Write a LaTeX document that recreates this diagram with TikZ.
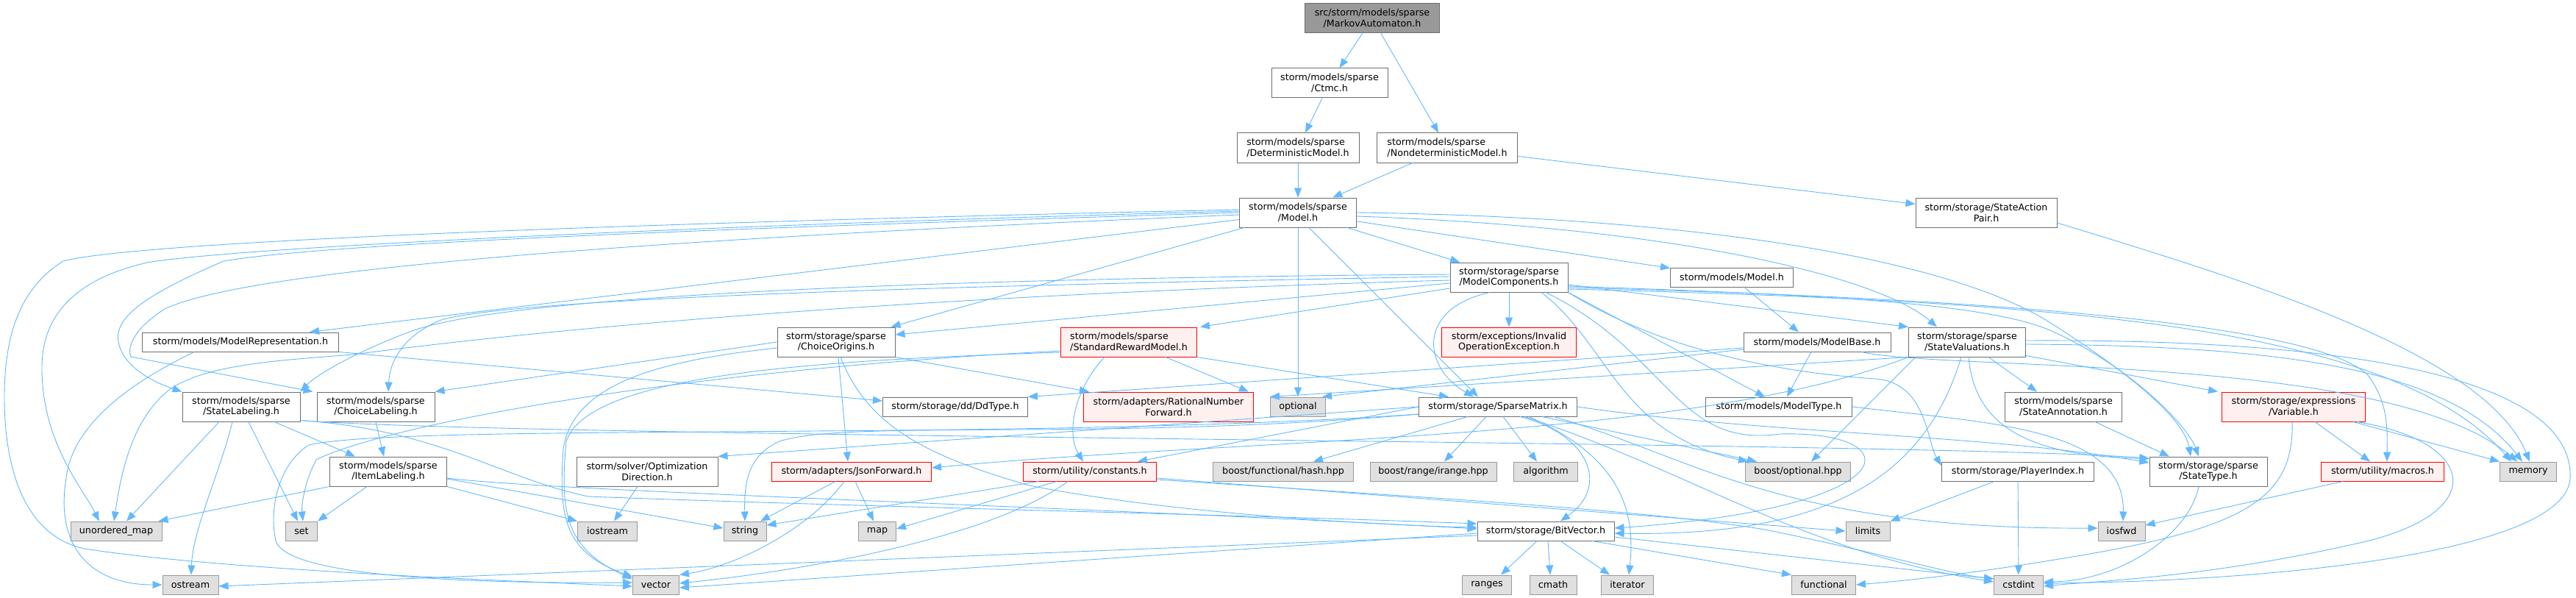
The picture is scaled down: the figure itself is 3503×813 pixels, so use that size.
\documentclass[tikz,border=0pt]{standalone}
\usepackage{fontspec}
\setmainfont{DejaVu Sans}
\usetikzlibrary{arrows.meta}
\definecolor{edgec}{HTML}{63B8FF}
\definecolor{bordc}{HTML}{6E6E6E}
\definecolor{sysb}{HTML}{999999}
\definecolor{sysf}{HTML}{E0E0E0}
\definecolor{redf}{HTML}{FFF0F0}
\definecolor{mainf}{HTML}{999999}
\newcommand\mk[6]{\node[#5,minimum width=#4pt] (#1) at (#2,#3) {#6};}
\begin{document}
\begin{tikzpicture}[x=1pt,y=-1pt,
  box/.style={draw=bordc, fill=white, line width=1pt, inner sep=0pt, minimum height=40pt, align=center, font=\fontsize{12.7pt}{14.6pt}\selectfont},
  one/.style={box, minimum height=26pt},
  sysn/.style={one, draw=sysb, fill=sysf},
  redn/.style={box, draw=red, fill=redf},
  redone/.style={one, draw=red, fill=redf},
  mainn/.style={box, fill=mainf, draw=bordc},
  lft/.style={box, align=left},
  edge/.style={draw=edgec, line width=0.9pt, -{Triangle[length=13pt,width=10pt]}}]
\useasboundingbox (0,0) rectangle (3503,813);
% rank 0-4
\mk{MA}{1866}{25}{183}{mainn}{src/storm/models/sparse\\/MarkovAutomaton.h}
\mk{Ctmc}{1808}{113}{158}{box}{storm/models/sparse\\/Ctmc.h}
\mk{Det}{1765}{201}{166}{lft}{storm/models/sparse\\/DeterministicModel.h}
\mk{Nondet}{1968}{201}{191}{lft}{storm/models/sparse\\/NondeterministicModel.h}
\mk{ModelS}{1765}{289}{159}{box}{storm/models/sparse\\/Model.h}
\mk{SAP}{2701}{289}{192}{box}{storm/storage/StateAction\\Pair.h}
\mk{MC}{2052}{377}{160}{box}{storm/storage/sparse\\/ModelComponents.h}
\mk{MModel}{2355}{377}{167}{one}{storm/models/Model.h}
% rank 5
\mk{MRep}{327}{465}{267}{one}{storm/models/ModelRepresentation.h}
\mk{CO}{1137}{465}{160}{box}{storm/storage/sparse\\/ChoiceOrigins.h}
\mk{SRM}{1535}{465}{185}{redn,align=left}{storm/models/sparse\\/StandardRewardModel.h}
\mk{IOE}{2052}{465}{183}{redn}{storm/exceptions/Invalid\\OperationException.h}
\mk{MB}{2471}{465}{200}{one}{storm/models/ModelBase.h}
\mk{SV}{2675}{465}{159}{box}{storm/storage/sparse\\/StateValuations.h}
% rank 6
\mk{SL}{328}{553}{160}{box}{storm/models/sparse\\/StateLabeling.h}
\mk{CL}{511}{553}{160}{box}{storm/models/sparse\\/ChoiceLabeling.h}
\mk{DD}{1299}{553}{197}{one}{storm/storage/dd/DdType.h}
\mk{RNF}{1589}{553}{231}{redn}{storm/adapters/RationalNumber\\Forward.h}
\mk{opt}{1765}{553}{75}{sysn}{optional}
\mk{SM}{2037}{553}{215}{one}{storm/storage/SparseMatrix.h}
\mk{MT}{2419}{553}{199}{one}{storm/models/ModelType.h}
\mk{SA}{2806}{553}{159}{box}{storm/models/sparse\\/StateAnnotation.h}
\mk{Var}{3119}{553}{195}{redn}{storm/storage/expressions\\/Variable.h}
% rank 7
\mk{IL}{528}{641}{159}{box}{storm/models/sparse\\/ItemLabeling.h}
\mk{OD}{880}{641}{192}{box}{storm/solver/Optimization\\Direction.h}
\mk{JF}{1158}{641}{217}{redone}{storm/adapters/JsonForward.h}
\mk{CONST}{1482}{641}{181}{redone}{storm/utility/constants.h}
\mk{hash}{1745}{641}{191}{sysn}{boost/functional/hash.hpp}
\mk{irange}{1949}{641}{172}{sysn}{boost/range/irange.hpp}
\mk{algo}{2102}{641}{87}{sysn}{algorithm}
\mk{bopt}{2445}{641}{143}{sysn}{boost/optional.hpp}
\mk{PI}{2744}{641}{207}{one}{storm/storage/PlayerIndex.h}
\mk{ST}{3003}{641}{160}{box}{storm/storage/sparse\\/StateType.h}
\mk{MAC}{3240}{641}{167}{redone}{storm/utility/macros.h}
\mk{mem}{3438}{641}{77}{sysn}{memory}
% rank 8
\mk{umap}{158}{722}{124}{sysn}{unordered\_map}
\mk{set}{410}{722}{43}{sysn}{set}
\mk{iostream}{826}{722}{81}{sysn}{iostream}
\mk{string}{1013}{722}{58}{sysn}{string}
\mk{map}{1193}{722}{51}{sysn}{map}
\mk{BV}{2102}{722}{186}{one}{storm/storage/BitVector.h}
\mk{limits}{2540}{722}{60}{sysn}{limits}
\mk{iosfwd}{2885}{722}{64}{sysn}{iosfwd}
% rank 9
\mk{ostream}{259}{795}{76}{sysn}{ostream}
\mk{vector}{892}{795}{63}{sysn}{vector}
\mk{ranges}{2022}{795}{67}{sysn}{ranges}
\mk{cmath}{2112}{795}{64}{sysn}{cmath}
\mk{iterator}{2213}{795}{71}{sysn}{iterator}
\mk{functional}{2480}{795}{87}{sysn}{functional}
\mk{cstdint}{2745}{795}{67}{sysn}{cstdint}

% ---- edges: top
\draw[edge] (MA) -- (Ctmc);
\draw[edge] (MA) -- (Nondet);
\draw[edge] (Ctmc) -- (Det);
\draw[edge] (Det) -- (ModelS);
\draw[edge] (Nondet) -- (ModelS);
\draw[edge] (Nondet) -- (SAP);
\draw[edge] ([yshift=-14pt]SAP.east) .. controls (3050,380) and (3380,480) .. ([xshift=2pt]mem.north);
% ModelS
\draw[edge] (ModelS) -- (MC);
\draw[edge] (ModelS) -- (MModel);
\draw[edge] (ModelS) -- ([xshift=-40pt]MRep.north east);
\draw[edge] (ModelS) -- ([xshift=-6pt]CO.north east);
\draw[edge] (ModelS) -- (opt);
\draw[edge] ([xshift=15pt]ModelS.south) -- ([xshift=-27pt]SM.north);
\draw[edge] (ModelS.east) .. controls (2300,295) and (2650,350) .. (2790,440) .. controls (2900,510) and (2970,570) .. ([xshift=-24pt]ST.north);
\draw[edge] ([yshift=-5pt]ModelS.east) .. controls (2300,310) and (2560,380) .. ([xshift=-41pt]SV.north);
\draw[edge] ([yshift=4pt]ModelS.west) .. controls (1000,300) and (200,325) .. (86,355) .. controls (30,390) and (6,450) .. (6,540) .. controls (6,650) and (40,730) .. (115,746) .. controls (300,775) and (700,790) .. ([yshift=-2pt]vector.west);
\draw[edge] ([yshift=2pt]ModelS.west) .. controls (1000,305) and (330,335) .. (200,357) .. controls (100,380) and (57,430) .. (57,500) .. controls (57,600) and (110,660) .. ([xshift=-23pt]umap.north);
\draw[edge] (ModelS.west) .. controls (1000,310) and (450,330) .. (304,355) .. controls (200,400) and (155,430) .. (161,465) .. controls (168,500) and (210,520) .. (SL.north west);
\draw[edge] ([yshift=-3pt]ModelS.west) .. controls (1000,320) and (350,360) .. (224,420) .. controls (185,445) and (172,470) .. (178,485) -- ([xshift=-5pt]CL.north west);
% MC
\draw[edge] (MC) -- (IOE);
\draw[edge] ([xshift=-26pt]MC.south) .. controls (1925,420) and (1935,500) .. ([xshift=-33pt]SM.north);
\draw[edge] ([yshift=-8pt]MC.west) -- ([yshift=10pt]CO.east);
\draw[edge] ([yshift=-15pt]MC.west) -- ([xshift=4pt]SRM.north east);
\draw[edge] ([yshift=4pt]MC.west) .. controls (1300,378) and (700,400) .. (560,450) .. controls (480,480) and (430,510) .. (SL.north east);
\draw[edge] ([yshift=1pt]MC.west) .. controls (1300,388) and (700,405) .. (600,435) .. controls (550,455) and (530,490) .. ([xshift=17pt]CL.north);
\draw[edge] ([yshift=-4pt]MC.west) .. controls (1300,400) and (800,440) .. (480,482) .. controls (380,490) and (280,495) .. (230,530) .. controls (180,570) and (165,640) .. ([xshift=-3pt]umap.north);
\draw[edge] (MC.south east) -- ([xshift=-19pt]MT.north);
\draw[edge] ([xshift=44pt]MC.south) .. controls (2190,470) and (2200,590) .. ([xshift=-68pt]bopt.north);
\draw[edge] ([xshift=50pt]MC.south) .. controls (2270,480) and (2280,610) .. (2420,590) .. controls (2600,585) and (2600,690) .. ([yshift=4pt]BV.east);
\draw[edge] (MC.south east) .. controls (2250,470) and (2400,505) .. (2550,515) .. controls (2620,520) and (2620,600) .. ([yshift=8pt]PI.west);
\draw[edge] ([yshift=-12pt]MC.east) .. controls (2450,400) and (2700,410) .. (2790,450) .. controls (2900,500) and (2975,580) .. ([xshift=-13pt]ST.north);
\draw[edge] ([yshift=-14pt]MC.east) .. controls (2700,405) and (3150,440) .. (3220,510) .. controls (3250,550) and (3246,590) .. ([xshift=6pt]MAC.north);
\draw[edge] ([yshift=-16pt]MC.east) .. controls (2800,410) and (3250,440) .. ([xshift=-23pt]mem.north);
\draw[edge] ([yshift=-10pt]MC.east) -- (SV.north west);
% MModel, MB
\draw[edge] ([xshift=17pt]MModel.south) -- ([xshift=-25pt]MB.north);
\draw[edge] ([xshift=-8pt]MB.south) -- ([xshift=11pt]MT.north);
\draw[edge] ([yshift=-8pt]MB.west) -- (DD.north east);
\draw[edge] ([yshift=-10pt]MB.west) -- ([xshift=-5pt]opt.north east);
\draw[edge] ([xshift=-40pt]MB.south east) .. controls (2650,505) and (3250,480) .. ([xshift=-15pt]mem.north);
% SV
\draw[edge] ([xshift=29pt]SV.south) -- ([xshift=-36pt]SA.north);
\draw[edge] ([yshift=2pt]SV.south east) -- ([xshift=-5pt]Var.north west);
\draw[edge] ([xshift=2pt]SV.south) .. controls (2685,580) and (2760,620) .. ([yshift=-3pt]ST.north west);
\draw[edge] ([yshift=-3pt]SV.east) .. controls (3100,470) and (3330,500) .. ([xshift=-8pt]mem.north);
\draw[edge] ([yshift=2pt]SV.east) .. controls (3300,460) and (3500,540) .. (3495,650) .. controls (3490,750) and (3100,790) .. ([yshift=2pt]cstdint.east);
\draw[edge] ([xshift=-8pt]SV.south) .. controls (2620,640) and (2500,730) .. ([yshift=-3pt]BV.east);
\draw[edge] ([xshift=-70pt]SV.south) -- ([xshift=18pt]bopt.north);
\draw[edge] (SV.south west) -- (opt.north west);
\draw[edge] (SV.south west) .. controls (2300,600) and (1700,595) .. ([yshift=5pt]JF.east);
% SM
\draw[edge] (SM.west) -- (OD.north east);
\draw[edge] (SM.west) -- ([xshift=65pt]CONST.north);
\draw[edge] ([xshift=-41pt]SM.south) -- ([xshift=41pt]hash.north);
\draw[edge] ([xshift=-16pt]SM.south) -- ([xshift=15pt]irange.north);
\draw[edge] ([xshift=7pt]SM.south) -- ([xshift=-12pt]algo.north);
\draw[edge] ([xshift=30pt]SM.south) .. controls (2160,590) and (2190,660) .. ([xshift=20pt]BV.north);
\draw[edge] ([xshift=42pt]SM.south) .. controls (2200,620) and (2225,690) .. ([xshift=2pt]iterator.north);
\draw[edge] ([xshift=60pt]SM.south) -- ([xshift=-56pt]bopt.north);
\draw[edge] ([xshift=36pt]SM.south) .. controls (2300,640) and (2450,750) .. ([yshift=4pt]cstdint.west);
\draw[edge] (SM.east) .. controls (2400,590) and (2700,590) .. ([yshift=12pt]ST.west);
\draw[edge] ([xshift=76pt]SM.south) .. controls (2300,620) and (2420,720) .. ([yshift=4pt]iosfwd.west);
\draw[edge] ([yshift=-10pt]SM.west) .. controls (1400,600) and (550,575) .. (420,605) .. controls (380,630) and (365,690) .. (375,735) .. controls (390,790) and (700,793) .. ([yshift=3pt]vector.west);
\draw[edge] ([yshift=-10pt]SM.west) .. controls (1500,600) and (1150,570) .. (1060,600) .. controls (1015,620) and (1012,660) .. (string.north);
% SRM
\draw[edge] ([xshift=50pt]SRM.south) -- ([xshift=-7pt]RNF.north east);
\draw[edge] ([xshift=-33pt]SRM.south) .. controls (1460,530) and (1450,590) .. ([xshift=-9pt]CONST.north);
\draw[edge] (SRM.south east) -- ([xshift=-67pt]SM.north);
\draw[edge] ([yshift=-12pt]SRM.west) .. controls (900,505) and (520,580) .. (430,625) .. controls (412,660) and (410,690) .. ([xshift=2pt]set.north);
\draw[edge] ([yshift=-14pt]SRM.west) .. controls (1100,490) and (800,510) .. (770,600) .. controls (762,690) and (765,745) .. ([yshift=8pt]vector.west);
% CO
\draw[edge] (CO.west) -- (CL.north east);
\draw[edge] ([xshift=3pt]CO.south) -- ([xshift=-5pt]JF.north);
\draw[edge] (CO.south east) -- ([xshift=8pt]RNF.north west);
\draw[edge] ([xshift=6pt]CO.south) .. controls (1180,580) and (1260,620) .. (1400,660) .. controls (1600,700) and (1900,715) .. ([yshift=5pt]BV.west);
\draw[edge] ([yshift=-8pt]CO.west) .. controls (900,490) and (780,520) .. (766,610) .. controls (760,700) and (765,750) .. ([yshift=11pt]vector.west);
% MRep
\draw[edge] ([xshift=-63pt]MRep.south) .. controls (220,500) and (100,560) .. (90,650) .. controls (75,740) and (120,795) .. (ostream.west);
\draw[edge] (MRep.south east) -- ([yshift=8pt]DD.west);
% SL, CL, IL
\draw[edge] ([xshift=-30pt]SL.south) -- ([xshift=14pt]umap.north);
\draw[edge] ([xshift=-12pt]SL.south) .. controls (300,640) and (262,720) .. ([xshift=1pt]ostream.north);
\draw[edge] ([xshift=10pt]SL.south) -- ([xshift=-5pt]set.north);
\draw[edge] ([xshift=45pt]SL.south) -- ([xshift=-45pt]IL.north);
\draw[edge] ([yshift=2pt]SL.south east) .. controls (600,585) and (680,650) .. (800,675) .. controls (1200,690) and (1700,700) .. ([yshift=10pt]BV.west);
\draw[edge] ([yshift=2pt]SL.south east) .. controls (700,595) and (2600,600) .. ([yshift=18pt]ST.west);
\draw[edge] (CL.south) -- ([xshift=-6pt]IL.north);
\draw[edge] (IL.south west) -- ([xshift=-5pt]umap.north east);
\draw[edge] ([xshift=-29pt]IL.south) -- (set.north east);
\draw[edge] (IL.south east) -- (iostream.north west);
\draw[edge] ([yshift=-10pt]IL.east) -- ([yshift=4pt]string.west);
\draw[edge] ([yshift=-9pt]IL.east) .. controls (750,668) and (1500,690) .. ([yshift=3pt]BV.west);
\draw[edge] ([xshift=-13pt]OD.south) -- ([xshift=9pt]iostream.north);
% JF, CONST
\draw[edge] ([xshift=-22pt]JF.south) -- ([xshift=21pt]string.north);
\draw[edge] ([xshift=-10pt]JF.south) .. controls (1100,720) and (1000,770) .. (vector.north east);
\draw[edge] ([xshift=5pt]JF.south) -- ([xshift=-5pt]map.north);
\draw[edge] ([xshift=-70pt]CONST.south) -- ([yshift=8pt]string.east);
\draw[edge] ([xshift=-45pt]CONST.south) -- ([yshift=3pt]map.east);
\draw[edge] ([xshift=-30pt]CONST.south) .. controls (1350,730) and (1100,775) .. ([yshift=2pt]vector.east);
\draw[edge] ([yshift=-9pt]CONST.east) -- (limits.west);
\draw[edge] ([yshift=-11pt]CONST.east) .. controls (2000,680) and (2250,695) .. (2400,720) .. controls (2550,750) and (2650,780) .. ([yshift=8pt]cstdint.west);
% Var, MAC, ST, PI, SA, MT
\draw[edge] ([xshift=29pt]Var.south) -- ([xshift=-17pt]MAC.north);
\draw[edge] ([xshift=-17pt]Var.south east) -- (mem.north west);
\draw[edge] ([xshift=-12pt]Var.south east) .. controls (3370,600) and (3390,700) .. (3200,740) .. controls (3000,785) and (2850,790) .. ([yshift=-2pt]cstdint.east);
\draw[edge] ([xshift=-2pt]Var.south) .. controls (3120,680) and (3050,720) .. (2800,760) .. controls (2650,785) and (2560,792) .. (functional.east);
\draw[edge] ([xshift=-54pt]MAC.south) -- ([yshift=8pt]iosfwd.east);
\draw[edge] ([xshift=-13pt]ST.south) .. controls (2975,730) and (2880,790) .. ([yshift=4pt]cstdint.east);
\draw[edge] (PI) -- (cstdint);
\draw[edge] ([xshift=-32pt]PI.south) -- (limits.north east);
\draw[edge] ([xshift=43pt]SA.south) -- ([xshift=-53pt]ST.north);
\draw[edge] (MT.east) .. controls (2700,575) and (2890,580) .. ([xshift=2pt]iosfwd.north);
% BV
\draw[edge] ([xshift=-12pt]BV.south) -- ([xshift=19pt]ranges.north);
\draw[edge] ([xshift=3pt]BV.south) -- ([xshift=-4pt]cmath.north);
\draw[edge] ([xshift=20pt]BV.south) -- ([xshift=-24pt]iterator.north);
\draw[edge] ([xshift=63pt]BV.south) -- (functional.north west);
\draw[edge] ([yshift=-8pt]BV.east) -- ([yshift=8pt]cstdint.west);
\draw[edge] ([yshift=-3pt]BV.west) -- ([yshift=-4pt]vector.east);
\draw[edge] ([yshift=-6pt]BV.west) -- ([yshift=-2pt]ostream.east);
\end{tikzpicture}
\end{document}
